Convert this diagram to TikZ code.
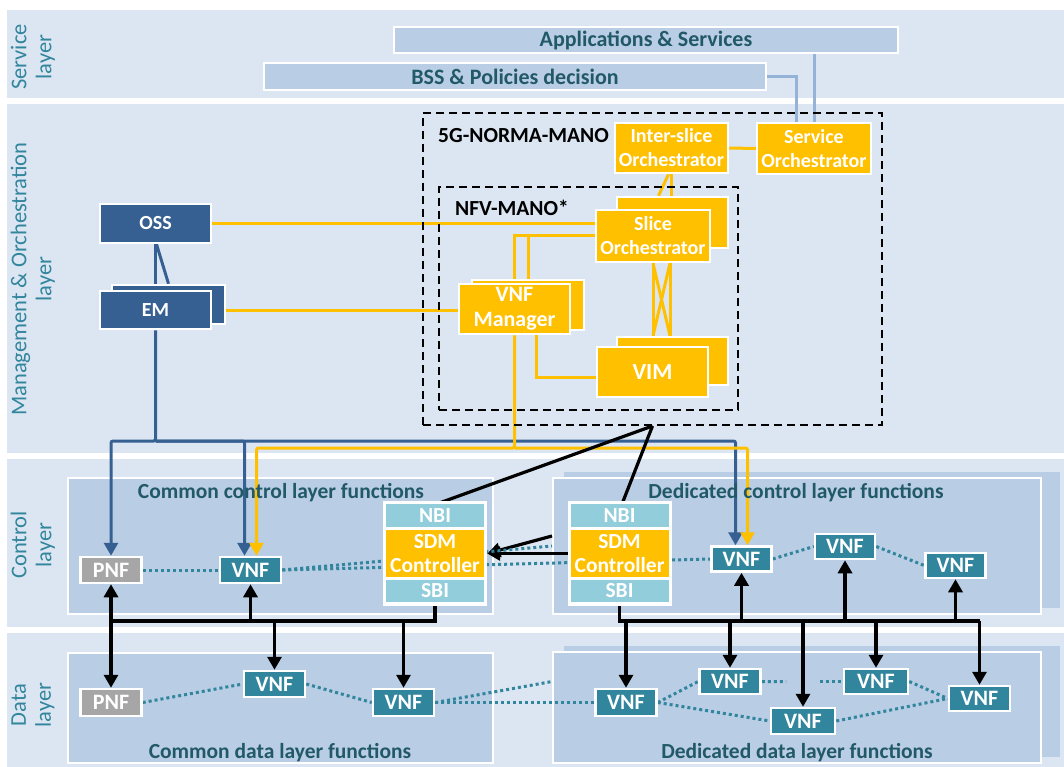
\documentclass[tikz,border=0pt]{standalone}
\usepackage{fontspec}
\setmainfont{Carlito}
\usetikzlibrary{arrows.meta,calc}
\definecolor{band}{HTML}{DCE6F2}
\definecolor{inner}{HTML}{B9CDE5}
\definecolor{dblue}{HTML}{366092}
\definecolor{vnfc}{HTML}{31859C}
\definecolor{pnfc}{HTML}{A6A6A6}
\definecolor{ifc}{HTML}{92CDDC}
\definecolor{ylw}{HTML}{FFC000}
\definecolor{lbltxt}{HTML}{31859C}
\definecolor{dtxt}{HTML}{215968}
\definecolor{lblue}{HTML}{95B3D7}
\pgfdeclarelayer{bg}
\pgfdeclarelayer{lines}
\pgfsetlayers{bg,lines,main}
\begin{document}
\begin{tikzpicture}[x=1pt,y=-1pt,
  box/.style={draw=white, line width=2.5pt, inner sep=0pt, text=white, align=center, font=\bfseries\fontsize{20}{24}\selectfont},
  ybox/.style={box, fill=ylw},
  dbox/.style={box, fill=dblue},
  vnf/.style={box, fill=vnfc, minimum width=61pt, minimum height=26pt, font=\bfseries\fontsize{22}{24}\selectfont},
  pnf/.style={vnf, fill=pnfc},
  ifbox/.style={box, draw=none, fill=ifc, minimum width=98pt, font=\bfseries\fontsize{21.5}{24}\selectfont},
  sdmbox/.style={box, draw=none, fill=ylw, minimum width=98pt, minimum height=47pt, font=\bfseries\fontsize{21.5}{24}\selectfont},
  sdmbg/.style={fill=white, inner sep=0pt, minimum width=104pt, minimum height=105pt},
  layerlbl/.style={rotate=90, text=lbltxt, align=center, inner sep=0pt, font=\fontsize{22.5}{25}\selectfont},
  funclbl/.style={text=dtxt, inner sep=0pt, font=\bfseries\fontsize{21.5}{24}\selectfont},
  region/.style={fill=inner, draw=white, line width=2pt, inner sep=0pt},
  svcbox/.style={box, fill=inner, text=dtxt, font=\bfseries\fontsize{22}{24}\selectfont},
  manobox/.style={draw=black, line width=2pt, dash pattern=on 8pt off 5pt, inner sep=0pt},
  yl/.style={draw=ylw, line width=3pt},
  bl/.style={draw=dblue, line width=3pt},
  bk/.style={draw=black, line width=3.2pt},
  lb/.style={draw=lblue, line width=3pt},
  arr/.style={-{Triangle[width=14pt,length=13pt]}},
  dotl/.style={draw=vnfc, line width=3pt, dash pattern=on 3pt off 3pt}
]
\useasboundingbox (0,0) rectangle (1064,767);

\begin{pgfonlayer}{bg}
\fill[white] (0,0) rectangle (1064,767);
\fill[band] (7,10) rectangle (1064,98);
\fill[band] (7,104) rectangle (1064,453);
\fill[band] (7,459) rectangle (1064,627);
\fill[band] (7,633) rectangle (1064,767);
\fill[inner] (564,472) rectangle (1060,608);
\fill[inner] (564,646) rectangle (1060,757);
\node[region, minimum width=425pt, minimum height=136pt] (ccl) at (280.5,546) {};
\node[region, minimum width=488pt, minimum height=136pt] (dcl) at (797,546) {};
\node[region, minimum width=425pt, minimum height=110pt] (cdl) at (280.5,708) {};
\node[region, minimum width=488pt, minimum height=111pt] (ddl) at (797,707.5) {};
\end{pgfonlayer}

% layer labels
\node[layerlbl] (lsvc) at (33,57) {Service\\layer};
\node[layerlbl] (lmgmt) at (33,279) {Management \& Orchestration\\layer};
\node[layerlbl] (lctl) at (33,545) {Control\\layer};
\node[layerlbl] (ldata) at (33,705) {Data\\layer};

% service layer
\node[svcbox, minimum width=504pt, minimum height=26pt] (apps) at (646,40) {Applications \& Services};
\node[svcbox, minimum width=502pt, minimum height=27pt] (bss) at (515,76.5) {BSS \& Policies decision};

% MANO frames
\node[manobox, minimum width=459pt, minimum height=312pt] (mano) at (652.5,269) {};
\node[manobox, minimum width=299pt, minimum height=223pt] (nfv) at (588.5,298.5) {};
\node[anchor=west, inner sep=0pt, font=\bfseries\fontsize{21.5}{24}\selectfont] (manolbl) at (438,136) {5G-NORMA-MANO};
\node[anchor=west, inner sep=0pt, font=\bfseries\fontsize{21.5}{24}\selectfont] (nfvlbl) at (455,208) {NFV-MANO*};

% orchestration boxes
\node[ybox, minimum width=113pt, minimum height=50pt] (inter) at (671.5,148) {Inter-slice\\Orchestrator};
\node[ybox, minimum width=114pt, minimum height=51pt] (sorch) at (814,148.5) {Service\\Orchestrator};
\node[ybox, minimum width=111pt, minimum height=51pt] (sliceb) at (672.5,222.5) {};
\node[ybox, minimum width=114pt, minimum height=52pt] (slice) at (653,236) {Slice\\Orchestrator};
\node[ybox, minimum width=112pt, minimum height=50pt] (vnfmb) at (528,305) {};
\node[ybox, minimum width=111pt, minimum height=50pt, font=\bfseries\fontsize{22}{25}\selectfont] (vnfm) at (514.5,309) {VNF\\Manager};
\node[ybox, minimum width=111pt, minimum height=48pt] (vimb) at (672.5,361) {};
\node[ybox, minimum width=111pt, minimum height=50pt, font=\bfseries\fontsize{23}{24}\selectfont] (vim) at (652.5,372) {VIM};
\node[dbox, minimum width=111pt, minimum height=39pt] (oss) at (155.5,223.5) {OSS};
\node[dbox, minimum width=113pt, minimum height=39pt] (emb) at (168.5,304.5) {};
\node[dbox, minimum width=111pt, minimum height=38pt] (em) at (155.5,310) {EM};

% control layer
\node[funclbl] (ccllbl) at (281,493) {Common control layer functions};
\node[funclbl] (dcllbl) at (796,493) {Dedicated control layer functions};
\node[pnf] (pnf) at (111,570) {PNF};
\node[vnf] (cvnf) at (250.5,570) {VNF};
\node[sdmbg] (sdmLbg) at (435,553.5) {};
\node[ifbox, minimum height=23pt] (nbiL) at (435,515.5) {NBI};
\node[sdmbox] (sdmL) at (435,553.5) {SDM\\Controller};
\node[ifbox, minimum height=22pt] (sbiL) at (435,591) {SBI};
\node[sdmbg] (sdmRbg) at (619.5,553.5) {};
\node[ifbox, minimum height=23pt] (nbiR) at (619.5,515.5) {NBI};
\node[sdmbox] (sdmR) at (619.5,553.5) {SDM\\Controller};
\node[ifbox, minimum height=22pt] (sbiR) at (619.5,591) {SBI};
\node[vnf, minimum width=60pt, minimum height=25pt] (dvnf1) at (741.5,559) {VNF};
\node[vnf, minimum width=60pt, minimum height=25pt] (dvnf2) at (845,546.5) {VNF};
\node[vnf, minimum width=60pt, minimum height=25pt] (dvnf3) at (955.5,565.5) {VNF};

% data layer
\node[funclbl] (cdllbl) at (280,753) {Common data layer functions};
\node[funclbl] (ddllbl) at (797,753) {Dedicated data layer functions};
\node[pnf, minimum height=27pt] (dpnf) at (111,702.5) {PNF};
\node[vnf] (dv1) at (274.5,684) {VNF};
\node[vnf, minimum height=27pt] (dv2) at (403.5,702.5) {VNF};
\node[vnf, minimum height=27pt] (dA) at (626,702.5) {VNF};
\node[vnf, minimum height=25pt] (dB) at (730,681.5) {VNF};
\node[vnf, minimum width=64pt] (dC) at (803,721) {VNF};
\node[vnf, minimum width=64pt, minimum height=25pt] (dD) at (876,681.5) {VNF};
\node[vnf, minimum height=25pt] (dE) at (979.5,698.5) {VNF};

\coordinate (bbus) at (0,441);
\coordinate (ybus) at (0,448);
\coordinate (kbus) at (0,621);

\begin{pgfonlayer}{lines}
% service links
\draw[lb] (bss.east) -| ([xshift=-18pt]sorch.north);
\draw[lb] (apps.south -| sorch.north) -- (sorch.north);
% MANO internal
\draw[yl] (inter.east) -- (sorch.west);
\draw[yl] (inter.south) -- (inter.south |- sliceb.north);
\draw[yl] ([xshift=-3pt]inter.south) -- ([xshift=-14pt]sliceb.north);
\draw[yl] (oss.east) -- (oss.east -| slice.west);
\draw[yl] (em.east) -- (em.east -| vnfm.west);
\draw[yl] ([yshift=1pt]slice.west) -| (vnfm.north);
\draw[yl] ([yshift=1pt]slice.west) -| (vnfmb.north);
\draw[yl] ([xshift=22pt]vnfm.south) |- ([yshift=-5pt]vim.west);
\draw[yl] (slice.south) -- (slice.south |- vimb.north);
\draw[yl] ([xshift=17pt]slice.south) -- ([xshift=17pt]slice.south |- vimb.north);
\draw[yl] (slice.south) -- ([xshift=17pt]slice.south |- vimb.north);
\draw[yl] ([xshift=17pt]slice.south) -- (slice.south |- vimb.north);
% OSS - EM
\draw[bl] (oss.south) -- (em.north);
\draw[bl] ([xshift=1pt]oss.south) -- (emb.north);
% management buses
\draw[bl, arr, rounded corners=2pt] (em.south) -- (em.south |- bbus) -| (pnf.north);
\draw[bl, arr, rounded corners=2pt] (em.south |- bbus) -| ([xshift=-6pt]cvnf.north);
\draw[bl, arr, rounded corners=2pt] (em.south |- bbus) -| ([xshift=-6pt]dvnf1.north);
\draw[yl, arr, rounded corners=2pt] (vnfm.south) -- (vnfm.south |- ybus) -| ([xshift=6pt]cvnf.north);
\draw[yl, arr, rounded corners=2pt] (vnfm.south |- ybus) -| ([xshift=6pt]dvnf1.north);
% MANO to SDM controllers
\draw[bk] (mano.south) -- ([xshift=5pt]nbiL.north);
\draw[bk] (mano.south) -- ([xshift=3pt]nbiR.north);
\draw[bk, arr] (sdmR.west) -- (sdmLbg.east);
\draw[bk, arr] ([yshift=10pt]dcl.west) -- (sdmLbg.east);
% dotted control links
\draw[dotl] (pnf.east) -- (cvnf.west);
\draw[dotl] (cvnf.east) -- (dcl.west);
\draw[dotl] (cvnf.east) -- (dvnf1.west);
\draw[dotl] (dvnf1.east) -- (dvnf2.west);
\draw[dotl] (dvnf2.east) -- (dvnf3.west);
% dotted data links
\draw[dotl] (dpnf.east) -- (dv1.west);
\draw[dotl] (dv1.east) -- (dv2.west);
\draw[dotl] (dv2.east) -- ([yshift=26pt]ddl.west);
\draw[dotl] (dv2.east) -- (dA.west);
\draw[dotl] (dA.east) -- (dB.west);
\draw[dotl] (dA.east) -- (dC.west);
\draw[dotl] (dB.east) -- ($(dB.east)!0.3!(dD.west)$);
\draw[dotl] ($(dB.east)!0.72!(dD.west)$) -- (dD.west);
\draw[dotl] (dD.east) -- (dE.west);
\draw[dotl] (dC.east) -- (dE.west);
% black buses, common
\draw[bk] (sbiL.south) -- (sbiL.south |- kbus) -- (pnf.south |- kbus);
\draw[bk, arr] (pnf.south |- kbus) -- (pnf.south);
\draw[bk, arr] (cvnf.south |- kbus) -- (cvnf.south);
\draw[bk, arr] (dpnf.north |- kbus) -- (dpnf.north);
\draw[bk, arr] (dv1.north |- kbus) -- (dv1.north);
\draw[bk, arr] (dv2.north |- kbus) -- (dv2.north);
% black buses, dedicated
\draw[bk] (sbiR.south) -- (sbiR.south |- kbus) -- (dE.north |- kbus);
\draw[bk, arr] (dvnf1.south |- kbus) -- (dvnf1.south);
\draw[bk, arr] (dvnf2.south |- kbus) -- (dvnf2.south);
\draw[bk, arr] (dvnf3.south |- kbus) -- (dvnf3.south);
\draw[bk, arr] (dA.north |- kbus) -- (dA.north);
\draw[bk, arr] (dB.north |- kbus) -- (dB.north);
\draw[bk, arr] (dC.north |- kbus) -- (dC.north);
\draw[bk, arr] (dD.north |- kbus) -- (dD.north);
\draw[bk, arr] (dE.north |- kbus) -- (dE.north);
\end{pgfonlayer}
\end{tikzpicture}
\end{document}
